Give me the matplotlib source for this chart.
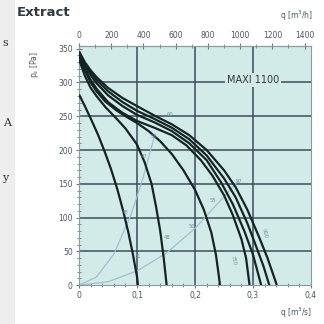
import matplotlib
matplotlib.use("Agg")
import matplotlib.pyplot as plt
from matplotlib.ticker import MultipleLocator, FixedLocator

# fan curves, q in m3/s, p in Pa
q1 = [0, 0.01, 0.021, 0.033, 0.044, 0.055, 0.066, 0.076, 0.085, 0.093, 0.1, 0.1015]
p1 = [282, 265, 245, 222, 198, 172, 142, 110, 78, 45, 12, 0]
q2 = [0, 0.01, 0.02, 0.03, 0.045, 0.064, 0.08, 0.1, 0.113, 0.125, 0.133, 0.14, 0.146, 0.151]
p2 = [334, 310, 292, 280, 264, 247, 232, 208, 182, 150, 115, 80, 40, 0]
q3 = [0, 0.01, 0.02, 0.03, 0.045, 0.064, 0.08, 0.1, 0.12, 0.14, 0.16, 0.18, 0.2, 0.215,
      0.228, 0.236, 0.24, 0.243]
p3 = [339, 318, 300, 287, 272, 259, 250, 240, 228, 213, 194, 170, 141, 112, 78, 45, 20, 0]
q4 = [0, 0.01, 0.02, 0.03, 0.05, 0.075, 0.1, 0.13, 0.16, 0.185, 0.21, 0.23, 0.25, 0.265,
      0.28, 0.288, 0.294]
p4 = [342, 320, 304, 291, 271, 255, 243, 233, 222, 207, 185, 162, 133, 104, 68, 40, 0]
q5 = [0, 0.01, 0.02, 0.03, 0.05, 0.075, 0.1, 0.13, 0.16, 0.19, 0.22, 0.245, 0.265, 0.285,
      0.3, 0.314]
p5 = [344, 325, 311, 299, 281, 265, 252, 241, 228, 210, 185, 152, 120, 80, 45, 0]
q6 = [0, 0.01, 0.02, 0.03, 0.05, 0.075, 0.1, 0.13, 0.16, 0.19, 0.22, 0.25, 0.27, 0.29,
      0.305, 0.318, 0.328]
p6 = [345, 328, 315, 304, 287, 271, 258, 246, 233, 216, 192, 158, 130, 92, 58, 28, 0]
q7 = [0, 0.01, 0.02, 0.03, 0.05, 0.075, 0.1, 0.13, 0.16, 0.19, 0.22, 0.25, 0.27, 0.29,
      0.31, 0.325, 0.341]
p7 = [346, 330, 318, 308, 292, 277, 265, 251, 238, 222, 200, 170, 145, 112, 72, 40, 0]
fan_q = [q1, q2, q3, q4, q5, q6, q7]
fan_p = [p1, p2, p3, p4, p5, p6, p7]

# faint system curves
sys_q1 = [0, 0.03, 0.06, 0.09, 0.11, 0.13]
sys_p1 = [0, 12, 46, 105, 158, 220]
sys_q2 = [0, 0.05, 0.1, 0.15, 0.2, 0.25, 0.275]
sys_p2 = [0, 5, 21, 47, 84, 131, 155]

# small labels on the chart
lab_txt = ["48", "31", "47", "56", "60", "48", "50", "55", "57"]
lab_q = [0.080, 0.101, 0.112, 0.130, 0.157, 0.152, 0.194, 0.231, 0.275]
lab_p = [108, 42, 190, 220, 252, 71, 87, 125, 153]
rot_txt = ["900", "750"]
rot_q = [0.319, 0.266]
rot_p = [77, 37]

x_ticks = [0, 0.1, 0.2, 0.3, 0.4]
x_labels = ["0", "0,1", "0,2", "0,3", "0,4"]
y_ticks = [0, 50, 100, 150, 200, 250, 300, 350]
top_ticks = [0, 200, 400, 600, 800, 1000, 1200, 1400]

bg = "#d3ebe8"
grid_c = "#3c4c58"
txt_c = "#4a5560"

fig = plt.figure(figsize=(3.24, 3.24), dpi=100)
fig.patch.set_facecolor("white")

# stray page text on the left
fig.patches.append(plt.Rectangle((0, 0), 0.045, 1, transform=fig.transFigure,
                                 facecolor="#eeeeee", edgecolor="none"))
fig.text(0.008, 0.858, "s", family="DejaVu Serif", fontsize=8, color="#333333")
fig.text(0.008, 0.612, "A", family="DejaVu Serif", fontsize=8, color="#333333")
fig.text(0.006, 0.44, "y", family="DejaVu Serif", fontsize=8, color="#333333")

ax = fig.add_axes([0.244, 0.12, 0.716, 0.738])
ax.set_facecolor(bg)
ax.set_xlim(0, 0.4)
ax.set_ylim(0, 354)

for v in [0.1, 0.2, 0.3]:
    ax.axvline(v, color=grid_c, lw=1.1, zorder=1)
for v in [50, 100, 150, 200, 250, 300]:
    ax.axhline(v, color=grid_c, lw=1.1, zorder=1)

ax.plot(sys_q1, sys_p1, color="#9fc0d0", lw=0.9, zorder=2)
ax.plot(sys_q2, sys_p2, color="#9fc0d0", lw=0.9, zorder=2)

for qq, pp in zip(fan_q, fan_p):
    ax.plot(qq, pp, color="#142424", lw=1.6, zorder=3, solid_capstyle="butt",
            solid_joinstyle="round")

for t, qq, pp in zip(lab_txt, lab_q, lab_p):
    ax.text(qq, pp, t, fontsize=3.8, color="#7090a0", ha="center", va="center", zorder=4)
for t, qq, pp in zip(rot_txt, rot_q, rot_p):
    ax.text(qq, pp, t, fontsize=3.8, color="#7090a0", ha="center", va="center",
            rotation=-75, zorder=4)

ax.text(0.30, 303, "MAXI 1100", fontsize=7, color="#303838", ha="center", va="center",
        zorder=5, bbox=dict(facecolor=bg, edgecolor="none", pad=1.5))

for s in ax.spines.values():
    s.set_color("#8a9aa5")
    s.set_linewidth(0.8)

ax.set_xticks(x_ticks)
ax.set_xticklabels(x_labels)
ax.xaxis.set_minor_locator(MultipleLocator(0.02))
ax.set_yticks(y_ticks)
ax.yaxis.set_minor_locator(MultipleLocator(10))
ax.tick_params(axis="both", which="major", labelsize=5.5, labelcolor=txt_c, color="#6a7a85",
               direction="inout", length=5, width=0.8, pad=2)
ax.tick_params(axis="both", which="minor", color="#6a7a85", direction="inout", length=2.5, width=0.6)

top = ax.secondary_xaxis("top", functions=(lambda x: x * 3600, lambda x: x / 3600))
top.xaxis.set_major_locator(FixedLocator(top_ticks))
top.xaxis.set_minor_locator(MultipleLocator(100))
top.tick_params(axis="x", which="major", labelsize=5.5, labelcolor=txt_c, color="#6a7a85",
                direction="inout", length=5, width=0.8, pad=2)
top.tick_params(axis="x", which="minor", color="#6a7a85", direction="inout", length=2.5, width=0.6)
top.spines["top"].set_color("#8a9aa5")

fig.text(0.053, 0.962, "Extract", fontsize=9.5, fontweight="bold", color="#333a40", va="center")
fig.text(0.965, 0.952, "q [m$^3$/h]", fontsize=5.5, color=txt_c, ha="right", va="center")
fig.text(0.965, 0.035, "q [m$^3$/s]", fontsize=5.5, color=txt_c, ha="right", va="center")
fig.text(0.105, 0.80, "p$_s$ [Pa]", fontsize=5.5, color=txt_c, rotation=90, ha="center", va="center")

fig.savefig("out.png", dpi=100)
